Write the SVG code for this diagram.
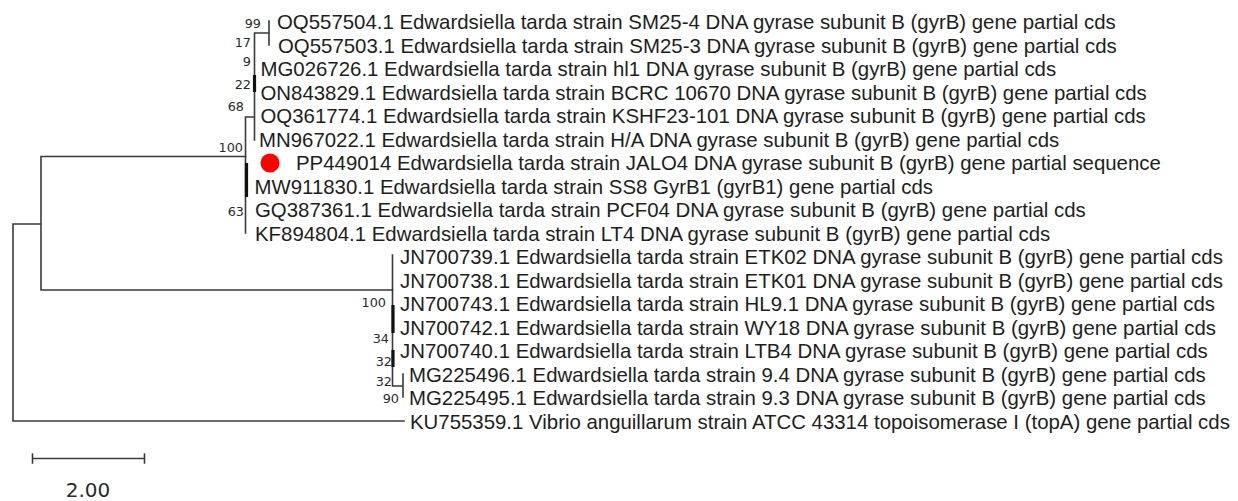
<svg xmlns="http://www.w3.org/2000/svg" width="1238" height="501" viewBox="0 0 1238 501">
<style>
.lbl{font-family:"Liberation Sans",Arial,sans-serif;font-size:20.4px;fill:#1e1e1e}
.bs{font-family:"DejaVu Sans",Verdana,sans-serif;font-size:12.8px;fill:#2a2a2a;text-anchor:end}
.br{stroke:#3a3a3a;stroke-width:1.6;fill:none;stroke-linecap:square}
.thick{stroke:#111;stroke-width:3.2;fill:none}
.scale{font-family:"DejaVu Sans",Verdana,sans-serif;font-size:20px;fill:#2a2a2a;text-anchor:middle}
</style>
<rect width="1238" height="501" fill="#fff"/>
<g id="connectors">
<path class="br" d="M13,224 V421 M13,224 H41 M41,156.5 V290 M41,156.5 H245.5 M41,290 H392.5 M13,421 H404"/>
<path class="br" d="M245.5,117 V233 M245.5,117 H254.5 M254.5,33 V140 M254.5,33 H269 M269,21 V45"/>
<path class="thick" d="M246.5,163 V197 M254.5,75 V92"/>
<path class="br" d="M392.5,255 V386 M392.5,386 H403 M403,374 V397"/>
<path class="thick" d="M393,305 V333 M393,350 V367"/>
</g>
<g id="support">
<text class="bs" x="261" y="27.5">99</text>
<text class="bs" x="251" y="47">17</text>
<text class="bs" x="251" y="66">9</text>
<text class="bs" x="251" y="89">22</text>
<text class="bs" x="244" y="111">68</text>
<text class="bs" x="243" y="152">100</text>
<text class="bs" x="244" y="216">63</text>
<text class="bs" x="386" y="306.5">100</text>
<text class="bs" x="389" y="342.5">34</text>
<text class="bs" x="392" y="366">32</text>
<text class="bs" x="392" y="386">32</text>
<text class="bs" x="399" y="403">90</text>
</g>
<g id="leaf-OQ557504"><text class="lbl" x="277" y="29">OQ557504.1 Edwardsiella tarda strain SM25-4 DNA gyrase subunit B (gyrB) gene partial cds</text></g>
<g id="leaf-OQ557503"><text class="lbl" x="278" y="52.5">OQ557503.1 Edwardsiella tarda strain SM25-3 DNA gyrase subunit B (gyrB) gene partial cds</text></g>
<g id="leaf-MG026726"><text class="lbl" x="260.5" y="76">MG026726.1 Edwardsiella tarda strain hl1 DNA gyrase subunit B (gyrB) gene partial cds</text></g>
<g id="leaf-ON843829"><text class="lbl" x="260.5" y="99.5">ON843829.1 Edwardsiella tarda strain BCRC 10670 DNA gyrase subunit B (gyrB) gene partial cds</text></g>
<g id="leaf-OQ361774"><text class="lbl" x="260.5" y="123">OQ361774.1 Edwardsiella tarda strain KSHF23-101 DNA gyrase subunit B (gyrB) gene partial cds</text></g>
<g id="leaf-MN967022"><text class="lbl" x="259" y="146.5">MN967022.1 Edwardsiella tarda strain H/A DNA gyrase subunit B (gyrB) gene partial cds</text></g>
<g id="leaf-PP449014"><circle cx="270" cy="163" r="9.5" fill="#ff0000"/><text class="lbl" x="296" y="170">PP449014 Edwardsiella tarda strain JALO4 DNA gyrase subunit B (gyrB) gene partial sequence</text></g>
<g id="leaf-MW911830"><text class="lbl" x="254.5" y="193.5">MW911830.1 Edwardsiella tarda strain SS8 GyrB1 (gyrB1) gene partial cds</text></g>
<g id="leaf-GQ387361"><text class="lbl" x="255" y="217">GQ387361.1 Edwardsiella tarda strain PCF04 DNA gyrase subunit B (gyrB) gene partial cds</text></g>
<g id="leaf-KF894804"><text class="lbl" x="255" y="240.5">KF894804.1 Edwardsiella tarda strain LT4 DNA gyrase subunit B (gyrB) gene partial cds</text></g>
<g id="leaf-JN700739"><text class="lbl" x="400" y="264">JN700739.1 Edwardsiella tarda strain ETK02 DNA gyrase subunit B (gyrB) gene partial cds</text></g>
<g id="leaf-JN700738"><text class="lbl" x="400" y="287.5">JN700738.1 Edwardsiella tarda strain ETK01 DNA gyrase subunit B (gyrB) gene partial cds</text></g>
<g id="leaf-JN700743"><text class="lbl" x="400" y="311">JN700743.1 Edwardsiella tarda strain HL9.1 DNA gyrase subunit B (gyrB) gene partial cds</text></g>
<g id="leaf-JN700742"><text class="lbl" x="400" y="334.5">JN700742.1 Edwardsiella tarda strain WY18 DNA gyrase subunit B (gyrB) gene partial cds</text></g>
<g id="leaf-JN700740"><text class="lbl" x="400" y="358">JN700740.1 Edwardsiella tarda strain LTB4 DNA gyrase subunit B (gyrB) gene partial cds</text></g>
<g id="leaf-MG225496"><text class="lbl" x="409" y="381.5">MG225496.1 Edwardsiella tarda strain 9.4 DNA gyrase subunit B (gyrB) gene partial cds</text></g>
<g id="leaf-MG225495"><text class="lbl" x="409" y="405">MG225495.1 Edwardsiella tarda strain 9.3 DNA gyrase subunit B (gyrB) gene partial cds</text></g>
<g id="leaf-KU755359"><text class="lbl" x="410" y="428.5">KU755359.1 Vibrio anguillarum strain ATCC 43314 topoisomerase I (topA) gene partial cds</text></g>
<g id="scale-bar">
<path class="br" d="M32.5,458.5 H144.5 M32.5,454 V463 M144.5,454 V463"/>
<text class="scale" x="88" y="497">2.00</text>
</g>
</svg>
